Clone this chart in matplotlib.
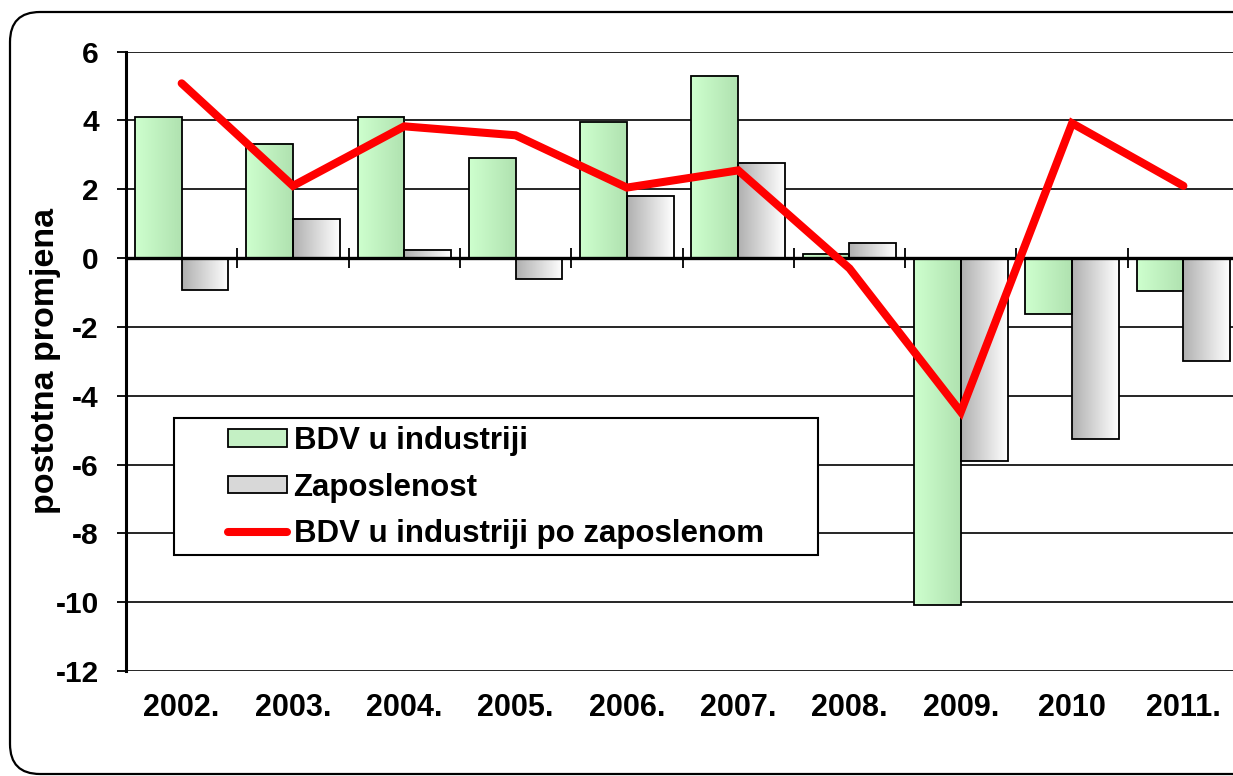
import numpy as np
import matplotlib
matplotlib.use("Agg")
import matplotlib.pyplot as plt
import matplotlib.patches as mpatches
from matplotlib.lines import Line2D

# ── data ────────────────────────────────────────────────────────────────
years = ["2002.", "2003.", "2004.", "2005.", "2006.", "2007.", "2008.", "2009.", "2010", "2011."]
bdv_ind = [4.09, 3.33, 4.1, 2.9, 3.95, 5.29, 0.13, -10.09, -1.62, -0.95]
zaposlenost = [-0.94, 1.15, 0.25, -0.62, 1.82, 2.77, 0.45, -5.9, -5.25, -3.0]
bdv_po_zap = [5.08, 2.1, 3.83, 3.57, 2.05, 2.55, -0.3, -4.47, 3.92, 2.1]

lbl_bdv = "BDV u industriji"
lbl_zap = "Zaposlenost"
lbl_line = "BDV u industriji po zaposlenom"

plt.rcParams['font.family'] = ['Liberation Sans', 'DejaVu Sans']
plt.rcParams['font.weight'] = 'bold'

fig = plt.figure(figsize=(12.33, 7.76), dpi=100)
ax = fig.add_axes([0.1022, 0.1353, 0.9027, 0.7981])

# rounded outer frame (runs off the right edge like the original)
frame = mpatches.FancyBboxPatch((0.10, 0.02), 12.6, 7.62,
                                boxstyle="round,pad=0,rounding_size=0.3",
                                transform=fig.dpi_scale_trans, fill=False,
                                edgecolor='black', lw=1.6, zorder=0)
fig.patches.append(frame)

x = np.arange(len(years))
w = 0.42

def gradient_bars(bars, c_left, c_right):
    grad = np.linspace(0, 1, 64)
    cl = np.array(c_left) / 255.0
    cr = np.array(c_right) / 255.0
    img = (cl[None, :] * (1 - grad[:, None]) + cr[None, :] * grad[:, None])[None, :, :]
    for b in bars:
        x0, y0 = b.get_x(), b.get_y()
        x1, y1 = x0 + b.get_width(), y0 + b.get_height()
        ax.imshow(img, extent=(x0, x1, min(y0, y1), max(y0, y1)),
                  aspect='auto', zorder=2, interpolation='bilinear')

b1 = ax.bar(x - w / 2, bdv_ind, w, facecolor='none', edgecolor='black', lw=1.3, zorder=3)
b2 = ax.bar(x + w / 2, zaposlenost, w, facecolor='none', edgecolor='black', lw=1.3, zorder=3)
gradient_bars(b1, (206, 255, 206), (176, 226, 176))
gradient_bars(b2, (176, 176, 176), (255, 255, 255))

ax.plot(x, bdv_po_zap, color='#FF0000', lw=5.8, solid_capstyle='round',
        solid_joinstyle='miter', zorder=5)

# axes styling
ax.set_xlim(-0.5, len(years) - 0.5)
ax.set_ylim(-12, 6)
ax.set_yticks(np.arange(-12, 7, 2))
ax.set_yticklabels([str(v) for v in range(-12, 7, 2)], fontsize=21.5, fontweight='bold')
ax.set_xticks(x)
ax.set_xticklabels(years, fontsize=22, fontweight='bold')
ax.tick_params(axis='x', length=0, pad=16)
ax.tick_params(axis='y', direction='out', length=6.5, width=1.3, pad=13)
ax.yaxis.grid(True, color='black', lw=1.2, zorder=1)
ax.set_axisbelow(True)
for s in ['top', 'right', 'bottom']:
    ax.spines[s].set_visible(False)
ax.spines['left'].set_linewidth(2.2)
ax.spines['left'].set_zorder(6)

# zero line with category separators
ax.axhline(0, color='black', lw=2.4, zorder=4)
ax.vlines(x[:-1] + 0.5, -0.3, 0.3, color='black', lw=1.3, zorder=4)

ax.set_ylabel("postotna promjena", fontsize=24.5, fontweight='bold', labelpad=-4)

# legend
handles = [mpatches.Patch(facecolor='#C4F0C4', edgecolor='black', lw=1.3),
           mpatches.Patch(facecolor='#D8D8D8', edgecolor='black', lw=1.3),
           Line2D([0], [0], color='#FF0000', lw=5.8, solid_capstyle='round')]
leg = ax.legend(handles, [lbl_bdv, lbl_zap, lbl_line], loc='upper left',
                bbox_to_anchor=(0.0916, 0.395), frameon=False, borderpad=0,
                borderaxespad=0, handlelength=1.9, handleheight=0.5,
                handletextpad=0.2, labelspacing=0.52,
                prop={'size': 22.5, 'weight': 'bold'})
leg.set_zorder(7)
ax.add_patch(mpatches.Rectangle((0.043, 0.187), 0.579, 0.221, transform=ax.transAxes,
                                facecolor='white', edgecolor='black', lw=1.5, zorder=6.5))

fig.savefig("out.png", dpi=100)
